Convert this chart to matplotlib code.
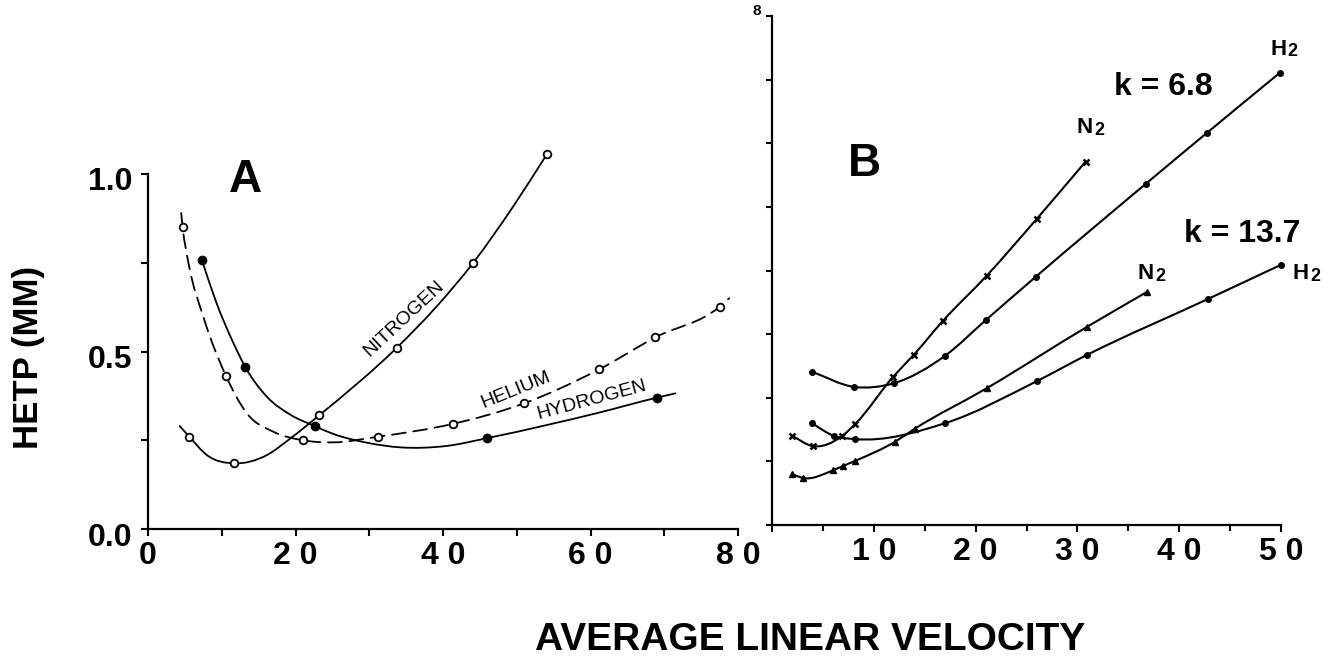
import numpy as np
import matplotlib
matplotlib.use("Agg")
import matplotlib.pyplot as plt
from matplotlib.path import Path
from matplotlib.patches import PathPatch
from matplotlib.transforms import ScaledTranslation

plt.rcParams["font.family"] = ["Liberation Sans", "DejaVu Sans"]
plt.rcParams["lines.scale_dashes"] = False

# ---- Panel A: HETP (mm) vs average linear velocity ----
nitrogen_x = [5.6, 11.7, 23.2, 33.7, 44.1, 54.1]
nitrogen_y = [0.26, 0.185, 0.32, 0.51, 0.75, 1.056]
nitrogen_curve_x = [4.3, 5.6, 8.0, 11.7, 16.1, 19.3, 23.2, 33.7, 39.1, 44.1, 49.5, 54.1]
nitrogen_curve_y = [0.29, 0.26, 0.208, 0.185, 0.208, 0.255, 0.32, 0.51, 0.626, 0.75, 0.908, 1.056]

helium_x = [4.7, 10.6, 21.0, 31.2, 41.3, 51.0, 61.2, 68.8, 77.5]
helium_y = [0.85, 0.43, 0.25, 0.26, 0.296, 0.354, 0.45, 0.54, 0.626]
helium_curve_x = [4.5, 4.7, 5.5, 7.5, 10.6, 13.4, 17.0, 21.0, 25.1, 31.2, 41.3,
                  51.0, 61.2, 68.8, 77.5, 78.8]
helium_curve_y = [0.89, 0.85, 0.748, 0.598, 0.43, 0.326, 0.274, 0.25, 0.244, 0.26,
                  0.296, 0.354, 0.45, 0.54, 0.626, 0.65]

hydrogen_x = [7.3, 13.2, 22.6, 46.0, 69.0]
hydrogen_y = [0.758, 0.456, 0.29, 0.256, 0.37]
hydrogen_curve_x = [7.3, 9.3, 11.6, 13.2, 16.1, 19.3, 22.6, 25.1, 29.7, 34.2, 40.5,
                    46.0, 54.1, 60.8, 69.0, 71.5]
hydrogen_curve_y = [0.758, 0.636, 0.523, 0.456, 0.373, 0.322, 0.29, 0.268, 0.243, 0.23,
                    0.234, 0.256, 0.293, 0.326, 0.37, 0.382]

a_xticks = [0, 20, 40, 60, 80]
a_xticklabels = ["0", "2 0", "4 0", "6 0", "8 0"]
a_yticks = [0.0, 0.5, 1.0]
a_yticklabels = ["0.0", "0.5", "1.0"]

# ---- Panel B: two capacity factors, N2 and H2 carrier gas ----
h2_k68_x = [3.9, 8.1, 12.0, 17.0, 21.0, 25.9, 36.7, 42.7, 49.9]
h2_k68_y = [2.41, 2.17, 2.23, 2.66, 3.22, 3.90, 5.36, 6.16, 7.11]

n2_k68_x = [2.0, 4.0, 6.9, 8.2, 11.9, 13.9, 16.8, 21.1, 26.0, 30.8]
n2_k68_y = [1.40, 1.24, 1.40, 1.59, 2.33, 2.67, 3.21, 3.92, 4.81, 5.71]

n2_k137_x = [2.0, 3.0, 6.0, 7.0, 8.2, 12.1, 14.0, 21.1, 30.9, 36.8]
n2_k137_y = [0.80, 0.74, 0.86, 0.93, 1.01, 1.31, 1.51, 2.15, 3.11, 3.66]

h2_k137_x = [3.9, 6.1, 8.2, 17.0, 26.0, 30.9, 42.8, 50.0]
h2_k137_y = [1.60, 1.40, 1.35, 1.60, 2.26, 2.67, 3.55, 4.09]

b_xticks = [0, 10, 20, 30, 40, 50]
b_xticklabels = ["", "1 0", "2 0", "3 0", "4 0", "5 0"]

W, H = 1328, 660


def smooth_path(xs, ys):
    """Cubic Hermite (Bezier) path through the points, y as a function of x."""
    x = np.asarray(xs, float)
    y = np.asarray(ys, float)
    h = np.diff(x)
    d = np.diff(y) / h
    m = np.empty_like(x)
    m[0], m[-1] = d[0], d[-1]
    m[1:-1] = (d[:-1] * h[1:] + d[1:] * h[:-1]) / (h[:-1] + h[1:])
    verts = [(x[0], y[0])]
    codes = [Path.MOVETO]
    for i in range(len(h)):
        verts += [(x[i] + h[i] / 3, y[i] + m[i] * h[i] / 3),
                  (x[i + 1] - h[i] / 3, y[i + 1] - m[i + 1] * h[i] / 3),
                  (x[i + 1], y[i + 1])]
        codes += [Path.CURVE4] * 3
    return Path(verts, codes)


def draw_curve(ax, xs, ys, lw, ls="-"):
    patch = PathPatch(smooth_path(xs, ys), fill=False, edgecolor="black",
                      lw=lw, linestyle=ls, clip_on=False, zorder=2,
                      capstyle="round", joinstyle="round")
    ax.add_patch(patch)


def style_axes(ax):
    for side in ("top", "right"):
        ax.spines[side].set_visible(False)
    for side in ("left", "bottom"):
        ax.spines[side].set_linewidth(1.6)
    ax.set_facecolor("none")


def gas_label(ax, x, y, symbol):
    """Chemical formula with a subscript 2, e.g. N2 / H2."""
    ax.annotate(symbol, xy=(x, y), xytext=(-0.5, 0), textcoords="offset points",
                fontsize=16, fontweight="bold", ha="right", va="center",
                annotation_clip=False)
    ax.annotate("2", xy=(x, y), xytext=(0.5, -2), textcoords="offset points",
                fontsize=13, fontweight="bold", ha="left", va="center",
                annotation_clip=False)


fig = plt.figure(figsize=(W / 100, H / 100), dpi=100)
fig.patch.set_facecolor("white")

# Panel A
ax_a = fig.add_axes([148 / W, (H - 529) / H, 590 / W, 355 / H])
style_axes(ax_a)
ax_a.set_xlim(0, 80)
ax_a.set_ylim(0, 1.0)

draw_curve(ax_a, nitrogen_curve_x, nitrogen_curve_y, 1.3)
draw_curve(ax_a, helium_curve_x, helium_curve_y, 1.3, ls=(0, (10, 5.5)))
draw_curve(ax_a, hydrogen_curve_x, hydrogen_curve_y, 1.3)

ax_a.plot(nitrogen_x, nitrogen_y, "o", ms=5.5, mfc="white", mec="black", mew=1.3,
          clip_on=False, zorder=3)
ax_a.plot(helium_x, helium_y, "o", ms=5.5, mfc="white", mec="black", mew=1.3,
          clip_on=False, zorder=3)
ax_a.plot(hydrogen_x, hydrogen_y, "o", ms=6, mfc="black", mec="black", mew=1.0,
          clip_on=False, zorder=3)

ax_a.set_xticks(a_xticks)
ax_a.set_xticklabels(a_xticklabels, fontsize=23, fontweight="bold")
ax_a.set_xticks([10, 30, 50, 70], minor=True)
ax_a.set_yticks(a_yticks)
ax_a.set_yticklabels(a_yticklabels, fontsize=23, fontweight="bold")
ax_a.set_yticks([0.25, 0.75], minor=True)
ax_a.tick_params(which="both", direction="out", length=5, width=1.5)
ax_a.tick_params(axis="x", which="major", pad=4)
ax_a.tick_params(axis="y", which="major", pad=6)
for lab in ax_a.get_yticklabels():
    lab.set_transform(lab.get_transform() + ScaledTranslation(0, -5 / 100, fig.dpi_scale_trans))

ax_a.text(13.2, 0.983, "A", fontsize=33, fontweight="bold", ha="center", va="center")
ax_a.text(34.7, 0.594, "NITROGEN", rotation=43, ha="center", va="center",
          fontsize=14, rotation_mode="anchor")
ax_a.text(49.9, 0.392, "HELIUM", rotation=22, ha="center", va="center",
          fontsize=14, rotation_mode="anchor")
ax_a.text(60.2, 0.363, "HYDROGEN", rotation=15, ha="center", va="center",
          fontsize=14, rotation_mode="anchor")

# Panel B
ax_b = fig.add_axes([772 / W, (H - 525) / H, 509 / W, 509 / H])
style_axes(ax_b)
ax_b.set_xlim(0, 50)
ax_b.set_ylim(0, 8)

for xs, ys in ((h2_k68_x, h2_k68_y), (n2_k68_x, n2_k68_y),
               (n2_k137_x, n2_k137_y), (h2_k137_x, h2_k137_y)):
    draw_curve(ax_b, xs, ys, 1.5)

ax_b.plot(h2_k68_x, h2_k68_y, "o", ms=4, color="black", clip_on=False, zorder=3)
ax_b.plot(h2_k137_x, h2_k137_y, "o", ms=4, color="black", clip_on=False, zorder=3)
ax_b.plot(n2_k68_x, n2_k68_y, "x", ms=5, mew=1.8, color="black", clip_on=False, zorder=3)
ax_b.plot(n2_k137_x, n2_k137_y, "^", ms=5, color="black", clip_on=False, zorder=3)

ax_b.set_xticks(b_xticks)
ax_b.set_xticklabels(b_xticklabels, fontsize=23, fontweight="bold")
ax_b.set_xticks([5, 15, 25, 35, 45], minor=True)
ax_b.set_yticks(range(0, 9))
ax_b.set_yticklabels([])
ax_b.tick_params(which="both", direction="out", length=4, width=1.5)
ax_b.tick_params(axis="x", which="major", length=5, pad=4)

ax_b.text(9.04, 5.68, "B", fontsize=33, fontweight="bold", ha="center", va="center")
ax_b.text(38.4, 6.89, "k = 6.8", fontsize=23, fontweight="bold", ha="center", va="center")
ax_b.text(46.2, 4.58, "k = 13.7", fontsize=23, fontweight="bold", ha="center", va="center")
gas_label(ax_b, 31.6, 6.24, "N")
gas_label(ax_b, 37.6, 3.95, "N")
gas_label(ax_b, 50.6, 7.48, "H")
gas_label(ax_b, 52.8, 3.95, "H")

# Top tick label of panel B's vertical axis
fig.text(757 / W, 1 - 11 / H, "8", ha="center", va="center",
         fontsize=11, fontweight="bold")

# Shared axis titles
fig.text(29 / W, 1 - 357 / H, "HETP (MM)", rotation=90, ha="center", va="center",
         fontsize=25, fontweight="bold")
fig.text(810 / W, 1 - 640 / H, "AVERAGE LINEAR VELOCITY", ha="center", va="center",
         fontsize=28, fontweight="bold")

fig.savefig("out.png", dpi=100, facecolor="white")
